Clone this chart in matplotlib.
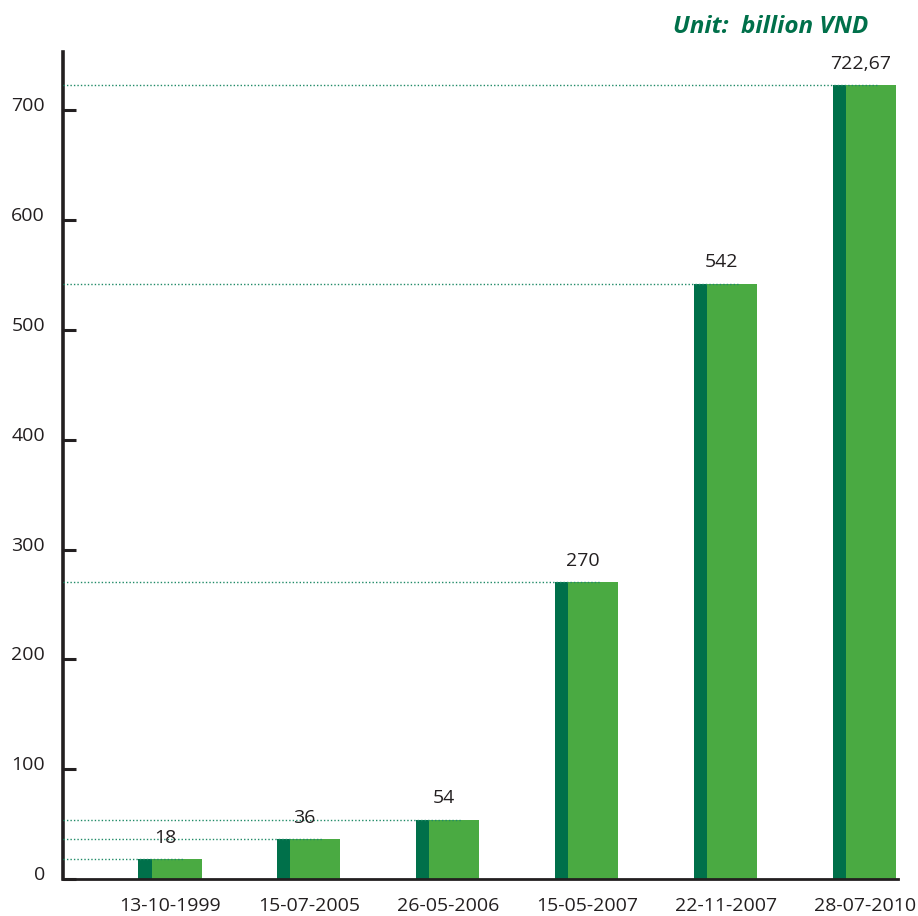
import matplotlib
matplotlib.use("Agg")
import matplotlib.pyplot as plt
from matplotlib.transforms import ScaledTranslation
import numpy as np

# Charter capital over time
dates = ["13-10-1999", "15-07-2005", "26-05-2006", "15-05-2007", "22-11-2007", "28-07-2010"]
capital = [18, 36, 54, 270, 542, 722.67]
value_labels = ["18", "36", "54", "270", "542", "722,67"]
y_ticks = [0, 100, 200, 300, 400, 500, 600, 700]

DARK = "#00704a"
LIGHT = "#4aaa42"
AXIS = "#231f20"
TEXT = "#231f20"

plt.rcParams["font.family"] = ["Open Sans", "DejaVu Sans"]

fig = plt.figure(figsize=(9.18, 9.16), dpi=100)
ax = fig.add_axes([63 / 918, 37 / 916, (898 - 63) / 918, (879 - 52) / 916])

x = np.arange(len(dates))
dark_w = 0.094
light_w = 0.36
left = x - (dark_w + light_w) / 2

# two-tone bars: narrow dark strip on the left, wider light body
ax.bar(left, capital, width=dark_w, align="edge", color=DARK, linewidth=0, zorder=2)
ax.bar(left + dark_w, capital, width=light_w, align="edge", color=LIGHT, linewidth=0, zorder=2)

# dotted guide lines from the axis to each bar top
ax.hlines(capital, -0.77, x + 0.1, colors="#1f8a66", linestyles=(0, (1, 1.5)),
          linewidth=1.0, zorder=3)

for xi, v, lab in zip(x, capital, value_labels):
    ax.annotate(lab, (xi - 0.03, v), xytext=(0, 9), textcoords="offset points",
                ha="center", va="bottom", fontsize=14, color=TEXT)

ax.set_xlim(-0.77, 5.24)
ax.set_ylim(0, 753)

for s in ["top", "right"]:
    ax.spines[s].set_visible(False)
ax.spines["left"].set_color(AXIS)
ax.spines["left"].set_linewidth(2.6)
ax.spines["bottom"].set_color(AXIS)
ax.spines["bottom"].set_linewidth(2.0)

ax.set_yticks(y_ticks)
ax.set_yticklabels([str(t) for t in y_ticks])
ax.tick_params(axis="y", direction="in", length=9, width=2.2, color=AXIS,
               pad=13, labelsize=14, labelcolor=TEXT)
ax.set_xticks(x)
ax.set_xticklabels(dates)
ax.tick_params(axis="x", length=0, pad=13, labelsize=14, labelcolor=TEXT)

shift = ScaledTranslation(0, 6 / 100, fig.dpi_scale_trans)
for lab in ax.get_yticklabels():
    lab.set_transform(lab.get_transform() + shift)

fig.text(868 / 918, 1 - 27 / 916, "Unit:  billion VND", ha="right", va="center",
         fontsize=17.5, fontweight="bold", fontstyle="italic", color=DARK)

fig.savefig("out.png", dpi=100, facecolor="white")
